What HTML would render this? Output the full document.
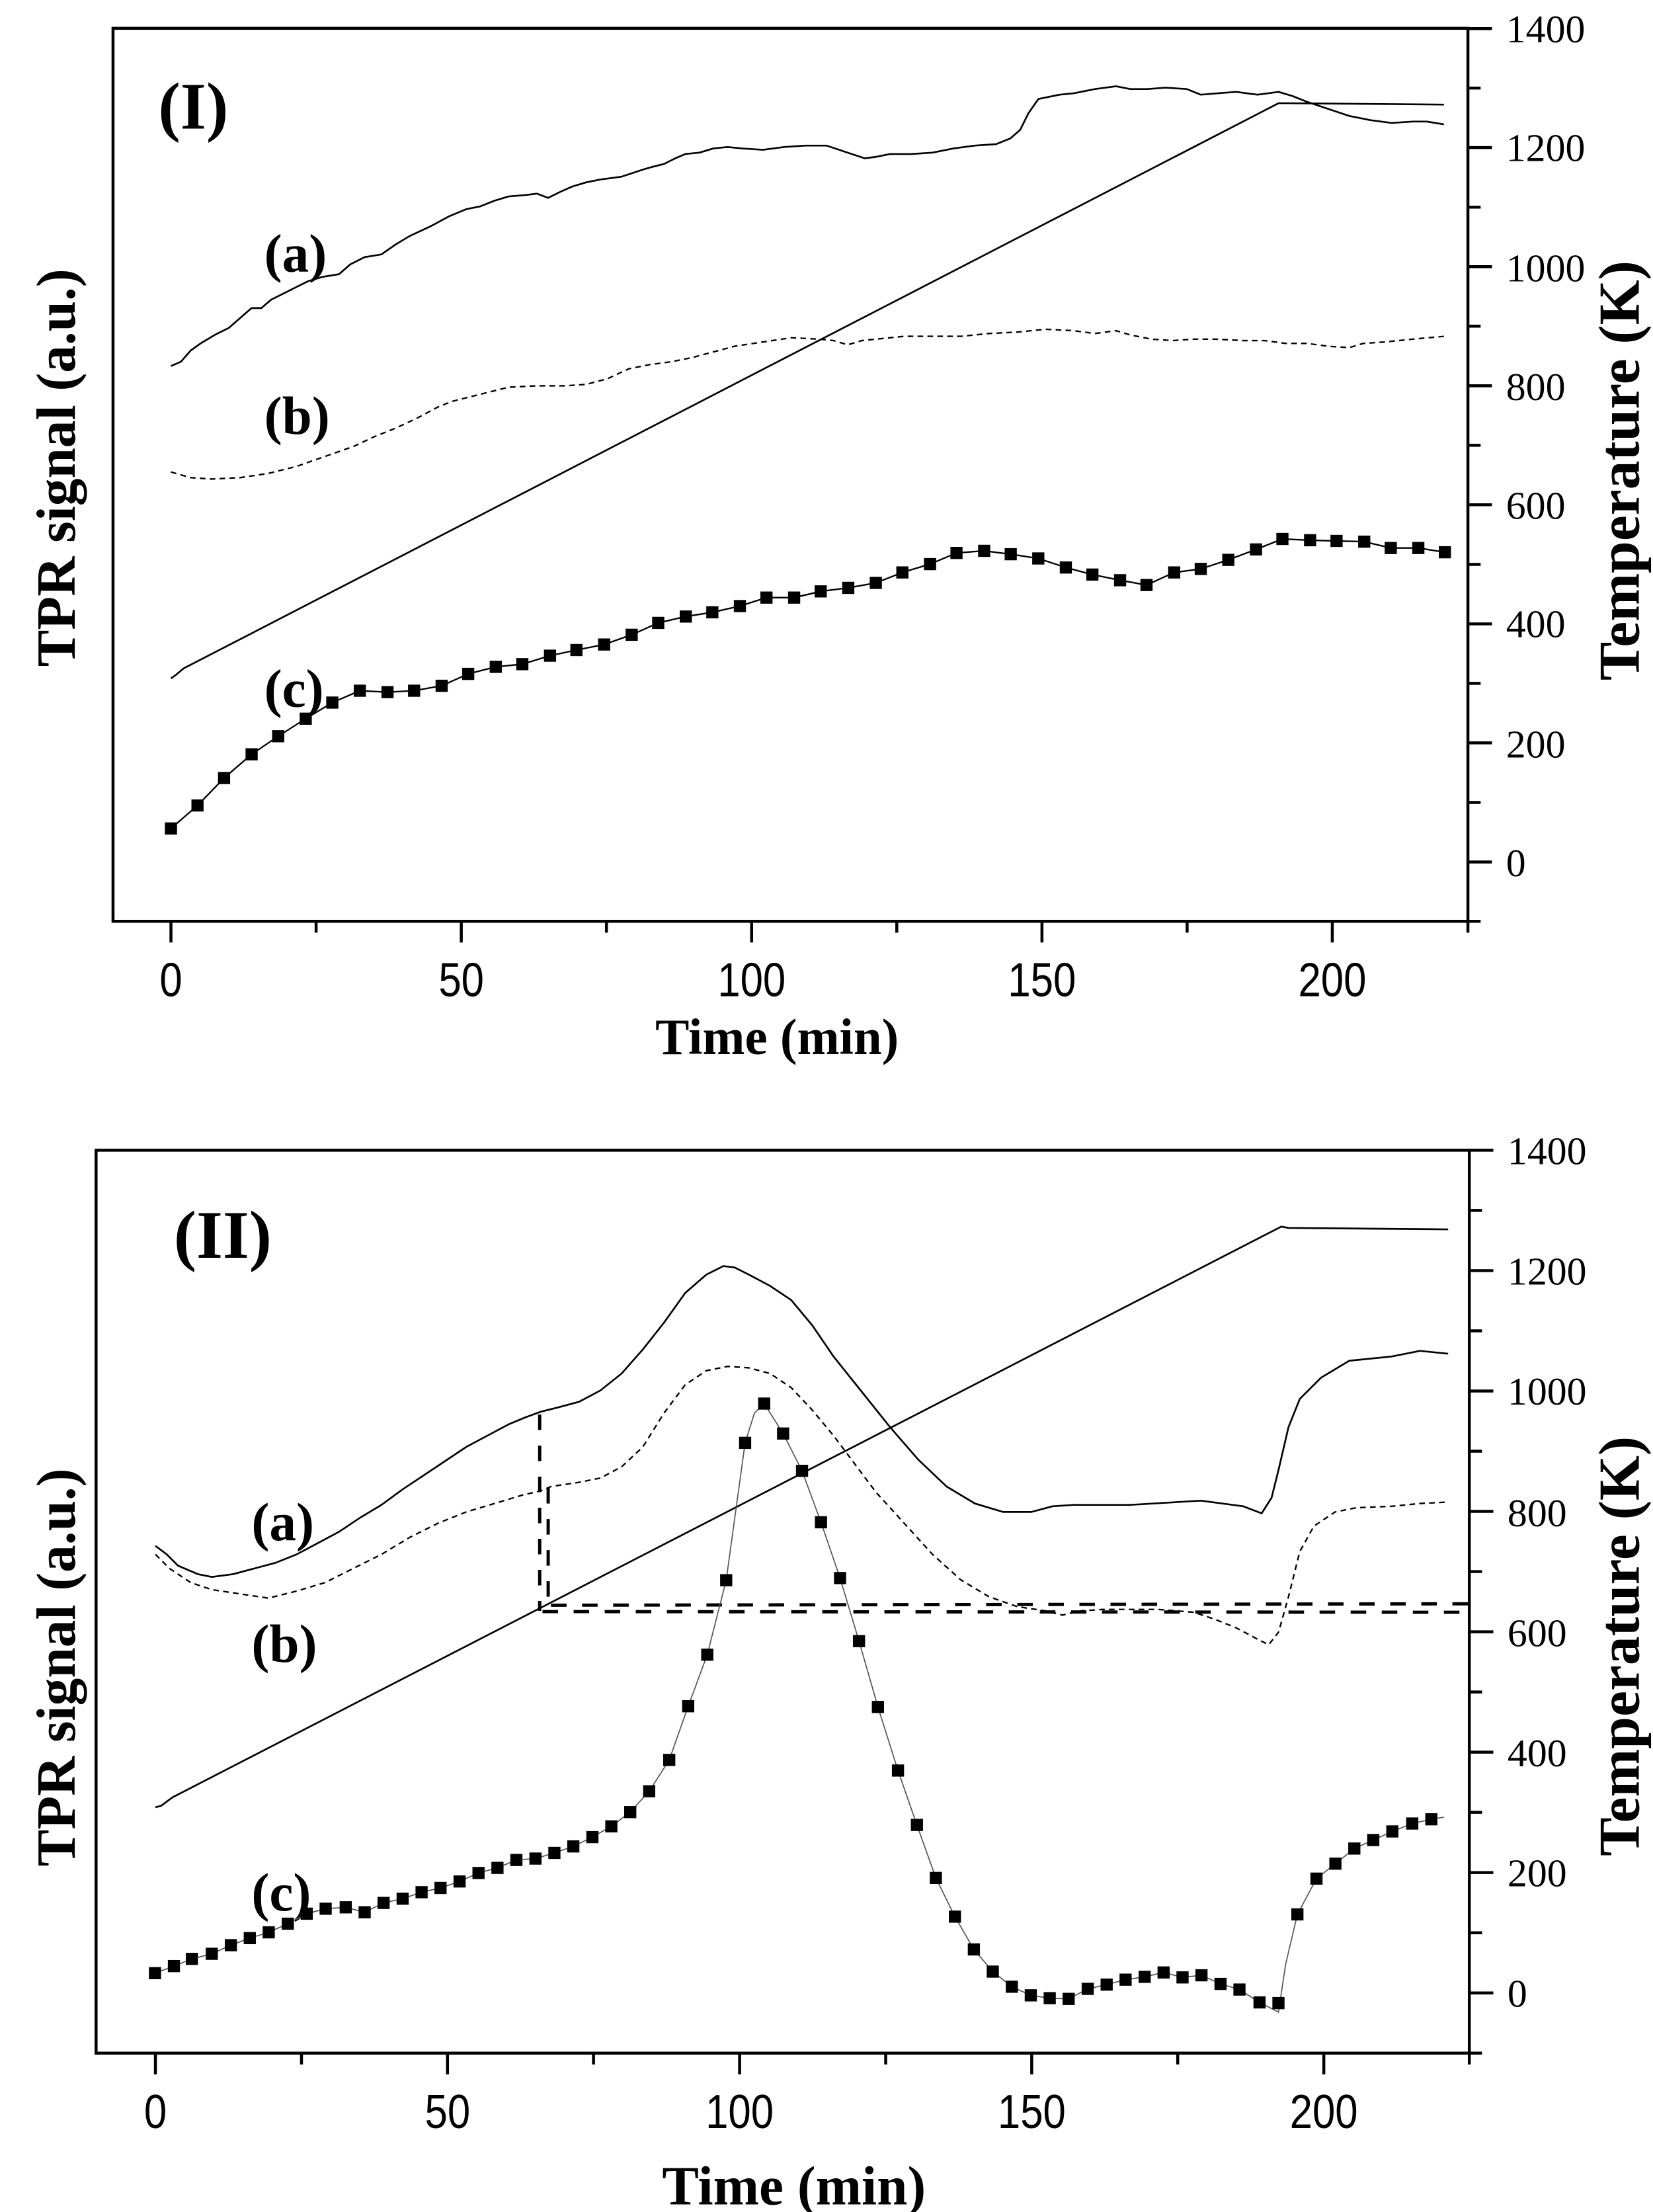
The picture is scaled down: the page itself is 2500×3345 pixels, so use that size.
<!DOCTYPE html>
<html><head><meta charset="utf-8"><style>html,body{margin:0;padding:0;background:#fff}svg{display:block}</style></head>
<body>
<svg width="2500" height="3345" viewBox="0 0 1170 1565.4" xmlns="http://www.w3.org/2000/svg">
<rect width="1170" height="1565.4" fill="#fff"/>
<defs>
<g id="sq"><rect x="-4.3" y="-4.3" width="8.6" height="8.6" fill="#000"/></g>
</defs>
<!-- ===== TOP PANEL ===== -->
<g fill="none" stroke="#000" stroke-width="2.1" stroke-linecap="square">
<rect x="80" y="20" width="959" height="632"/>
<line x1="1039" y1="652" x2="1039" y2="659"/>
</g>
<g stroke="#000" stroke-width="2.1">
<path d="M1039 610H1056M1039 525.7H1056M1039 441.5H1056M1039 357.2H1056M1039 273H1056M1039 188.7H1056M1039 104.4H1056M1039 20.2H1056"/>
<path d="M1039 652H1048M1039 567.9H1048M1039 483.6H1048M1039 399.4H1048M1039 315.1H1048M1039 230.8H1048M1039 146.6H1048M1039 62.3H1048"/>
<path d="M121 652V667M326.5 652V667M532 652V667M737.5 652V667M943 652V667"/>
<path d="M223.75 652V660M429.25 652V660M634.75 652V660M840.25 652V660"/>
</g>
<g font-family="Liberation Serif, serif" font-size="28" text-anchor="start">
<text x="1066" y="620">0</text><text x="1066" y="536">200</text><text x="1066" y="451">400</text><text x="1066" y="367">600</text><text x="1066" y="283">800</text><text x="1066" y="199">1000</text><text x="1066" y="114">1200</text><text x="1066" y="30">1400</text>
</g>
<g font-family="Liberation Sans, sans-serif" font-size="34" text-anchor="middle">
<text transform="translate(121,705) scale(0.85,1)">0</text>
<text transform="translate(326.5,705) scale(0.85,1)">50</text>
<text transform="translate(532,705) scale(0.85,1)">100</text>
<text transform="translate(737.5,705) scale(0.85,1)">150</text>
<text transform="translate(943,705) scale(0.85,1)">200</text>
</g>
<g font-family="Liberation Serif, serif" font-weight="bold">
<text x="550" y="746" font-size="36" text-anchor="middle">Time (min)</text>
<text transform="translate(53,331) rotate(-90)" font-size="39" text-anchor="middle">TPR signal (a.u.)</text>
<text transform="translate(1160,333) rotate(-90)" font-size="41" text-anchor="middle">Temperature (K)</text>
<text x="112" y="91" font-size="47">(I)</text>
<text x="187" y="192" font-size="38">(a)</text>
<text x="187" y="307" font-size="38">(b)</text>
<text x="187" y="500" font-size="38">(c)</text>
</g>
<g fill="none" stroke="#000" stroke-width="1.25" stroke-linejoin="round">
<polyline points="121,480 124,478 130,473 905,73 910,73 1022,74"/>
<polyline points="121,259 128,256 135,248 142,243 152,237 162,232 170,225 178,218 185,218 192,212 200,208 210,203 218,199 228,196 240,194 248,187 258,182 270,180 280,173 290,167 305,160 318,153 330,148 340,146 350,142 360,139 372,138 380,137 388,140 396,136 405,132 415,129 425,127 440,125 455,120 462,118 470,116 478,112 485,109 495,108 505,105 515,104 525,105 540,106 555,104 570,103 585,103 600,108 612,112 620,111 630,109 645,109 660,108 675,105 690,103 705,102 715,98 722,92 728,80 735,70 750,67 760,66 775,63 790,61 800,63 812,63 825,62 840,63 850,67 862,66 875,65 890,67 905,65 915,68 925,72 940,77 955,82 970,85 985,87 1000,86 1010,86 1022,88"/>
<polyline stroke-width="1.1" stroke-dasharray="4 3" points="121,334 135,338 150,339 170,338 190,335 210,330 230,323 250,316 265,309 280,303 295,296 310,288 320,284 340,279 360,274 380,273 400,273 415,272 430,268 445,261 460,258 475,256 490,253 505,249 520,245 540,242 560,239 580,240 590,241 600,244 610,241 620,240 640,238 660,238 680,238 700,236 720,235 740,233 760,234 775,236 790,234 800,237 815,240 830,241 845,240 860,240 880,241 895,241 910,243 925,243 940,245 955,246 965,243 980,242 1000,240 1022,238"/>
<polyline stroke-width="1.1" points="121,586.3 139.8,570 158.6,550.6 178.1,533.8 196.9,521 216.4,508.6 235.2,497.2 254.7,488.8 274.3,489.8 293.1,488.8 312.6,485.3 331.4,476.9 350.9,471.9 369.7,470 389.3,464 408,460 427.6,456.1 447.1,449.2 465.9,440.8 485.4,436.3 504.2,433.3 523.7,428.9 542.5,422.9 562.1,422.9 580.9,418.5 600.4,416 619.9,412.5 638.7,405.1 658.3,399.2 677,391.3 696.6,389.8 715.4,392.2 734.9,395.2 754.4,401.6 773.2,406.6 792.8,410.6 811.5,414 831.1,405.1 849.9,402.6 869.4,396.2 889,388.8 907.7,381.4 927.3,382.3 946,382.8 965.6,383.3 984.4,387.8 1003.9,387.8 1022.7,390.8"/>
</g>
<g>
<use href="#sq" x="121" y="586.3"/><use href="#sq" x="139.8" y="570"/><use href="#sq" x="158.6" y="550.6"/><use href="#sq" x="178.1" y="533.8"/><use href="#sq" x="196.9" y="521"/><use href="#sq" x="216.4" y="508.6"/><use href="#sq" x="235.2" y="497.2"/><use href="#sq" x="254.7" y="488.8"/><use href="#sq" x="274.3" y="489.8"/><use href="#sq" x="293.1" y="488.8"/><use href="#sq" x="312.6" y="485.3"/><use href="#sq" x="331.4" y="476.9"/><use href="#sq" x="350.9" y="471.9"/><use href="#sq" x="369.7" y="470"/><use href="#sq" x="389.3" y="464"/><use href="#sq" x="408" y="460"/><use href="#sq" x="427.6" y="456.1"/><use href="#sq" x="447.1" y="449.2"/><use href="#sq" x="465.9" y="440.8"/><use href="#sq" x="485.4" y="436.3"/><use href="#sq" x="504.2" y="433.3"/><use href="#sq" x="523.7" y="428.9"/><use href="#sq" x="542.5" y="422.9"/><use href="#sq" x="562.1" y="422.9"/><use href="#sq" x="580.9" y="418.5"/><use href="#sq" x="600.4" y="416"/><use href="#sq" x="619.9" y="412.5"/><use href="#sq" x="638.7" y="405.1"/><use href="#sq" x="658.3" y="399.2"/><use href="#sq" x="677" y="391.3"/><use href="#sq" x="696.6" y="389.8"/><use href="#sq" x="715.4" y="392.2"/><use href="#sq" x="734.9" y="395.2"/><use href="#sq" x="754.4" y="401.6"/><use href="#sq" x="773.2" y="406.6"/><use href="#sq" x="792.8" y="410.6"/><use href="#sq" x="811.5" y="414"/><use href="#sq" x="831.1" y="405.1"/><use href="#sq" x="849.9" y="402.6"/><use href="#sq" x="869.4" y="396.2"/><use href="#sq" x="889" y="388.8"/><use href="#sq" x="907.7" y="381.4"/><use href="#sq" x="927.3" y="382.3"/><use href="#sq" x="946" y="382.8"/><use href="#sq" x="965.6" y="383.3"/><use href="#sq" x="984.4" y="387.8"/><use href="#sq" x="1003.9" y="387.8"/><use href="#sq" x="1022.7" y="390.8"/>
</g>

<!-- ===== BOTTOM PANEL ===== -->
<g fill="none" stroke="#000" stroke-width="2.1" stroke-linecap="square">
<rect x="68" y="814" width="972" height="639"/>
<line x1="1040" y1="1453" x2="1040" y2="1460"/>
</g>
<g stroke="#000" stroke-width="2.1">
<path d="M1040 1410.4H1057M1040 1325.2H1057M1040 1240H1057M1040 1154.8H1057M1040 1069.6H1057M1040 984.4H1057M1040 899.2H1057M1040 814H1057"/>
<path d="M1040 1453H1049M1040 1367.8H1049M1040 1282.6H1049M1040 1197.4H1049M1040 1112.2H1049M1040 1027H1049M1040 941.8H1049M1040 856.6H1049"/>
<path d="M110 1453V1468M316.75 1453V1468M523.5 1453V1468M730.25 1453V1468M937 1453V1468"/>
<path d="M213.4 1453V1461M420.1 1453V1461M626.9 1453V1461M833.6 1453V1461"/>
</g>
<g font-family="Liberation Serif, serif" font-size="28" text-anchor="start">
<text x="1067" y="1420">0</text><text x="1067" y="1335">200</text><text x="1067" y="1250">400</text><text x="1067" y="1165">600</text><text x="1067" y="1080">800</text><text x="1067" y="994">1000</text><text x="1067" y="909">1200</text><text x="1067" y="824">1400</text>
</g>
<g font-family="Liberation Sans, sans-serif" font-size="34" text-anchor="middle">
<text transform="translate(110,1506) scale(0.85,1)">0</text>
<text transform="translate(316.75,1506) scale(0.85,1)">50</text>
<text transform="translate(523.5,1506) scale(0.85,1)">100</text>
<text transform="translate(730.25,1506) scale(0.85,1)">150</text>
<text transform="translate(937,1506) scale(0.85,1)">200</text>
</g>
<g font-family="Liberation Serif, serif" font-weight="bold">
<text x="562" y="1560" font-size="39" text-anchor="middle">Time (min)</text>
<text transform="translate(53,1180) rotate(-90)" font-size="39" text-anchor="middle">TPR signal (a.u.)</text>
<text transform="translate(1160,1165) rotate(-90)" font-size="41" text-anchor="middle">Temperature (K)</text>
<text x="123" y="890" font-size="48">(II)</text>
<text x="178" y="1090" font-size="38">(a)</text>
<text x="178" y="1176" font-size="38">(b)</text>
<text x="178" y="1352" font-size="38">(c)</text>
</g>
<g fill="none" stroke="#000" stroke-width="1.25" stroke-linejoin="round">
<polyline points="110,1279 114,1278 122,1272 907,868 912,869 1025,870"/>
<polyline points="110,1094 118,1100 126,1108 140,1114 150,1116 165,1114 180,1110 195,1106 210,1100 225,1092 240,1084 255,1074 270,1065 285,1054 300,1044 315,1034 330,1024 345,1016 360,1008 372,1003 383,999 395,996 410,992 425,984 440,972 455,955 470,936 485,915 500,902 512,896 520,897 530,902 545,910 560,920 575,938 590,960 610,985 630,1010 650,1033 670,1052 690,1064 710,1070 730,1070 745,1066 760,1065 800,1065 850,1062 880,1066 893,1071 900,1060 905,1040 912,1010 920,990 935,975 955,963 985,960 1005,956 1025,958"/>
<polyline stroke-width="1.1" stroke-dasharray="4 3" points="110,1100 120,1110 135,1120 150,1125 170,1128 190,1131 210,1126 230,1120 250,1110 270,1100 290,1088 310,1078 330,1070 350,1064 370,1058 383,1055 390,1052 410,1049 425,1046 440,1038 455,1024 470,1000 485,980 500,970 515,967 530,968 545,972 560,982 575,998 590,1016 605,1036 620,1056 640,1078 660,1100 680,1118 700,1130 720,1137 740,1140 752,1143 765,1140 780,1139 800,1139 820,1139 845,1141 860,1146 875,1152 890,1160 898,1164 905,1155 912,1130 920,1098 930,1080 945,1070 960,1067 985,1066 1005,1064 1025,1063"/>
<g stroke-width="2.3" stroke-dasharray="11 11">
<line x1="382" y1="1001" x2="382" y2="1140"/>
<line x1="388" y1="1053" x2="388" y2="1132"/>
<line x1="390" y1="1136" x2="1040" y2="1135"/>
<line x1="384" y1="1140.5" x2="1040" y2="1141"/>
</g>
<polyline stroke="#555" stroke-width="0.8" points="109.7,1396.4 123.1,1391.4 135.8,1386.3 149.9,1382.7 163.4,1376.6 176.8,1371.6 190.2,1367.5 203.7,1361.4 217.1,1354.3 230.5,1350.8 244.7,1349.8 258.1,1353.3 271.5,1346.7 285,1343.7 298.4,1339.1 311.8,1336.1 325.3,1331.5 338.7,1325.5 352.1,1321.9 365.5,1316.3 379,1315.3 392.4,1311.3 405.8,1306.7 419.3,1300.1 432.7,1292.5 446.1,1282.4 459.5,1267.7 473.7,1245.5 487.1,1207.5 500.6,1171 514,1118.3 527.4,1021.1 534,1000 540.9,993.3 554.3,1014.5 567.7,1040.9 581.1,1077.3 594.6,1116.8 608,1161.4 621.4,1208 635.6,1253 649,1291.5 662.4,1329 675.9,1356.4 689.3,1379.6 702.7,1395.3 716.2,1406 729.6,1412.1 743,1414.1 756.4,1414.6 769.9,1407.5 783.3,1404.5 796.7,1401 810.2,1399 823.6,1395.9 837,1399.4 850.4,1397.9 863.9,1404 877.3,1408 891.5,1417.1 904.9,1424 910,1390 918.3,1354.8 931.8,1329.5 945.2,1318.9 958.6,1308.2 972,1302.2 985.5,1296.1 999.6,1290.5 1013.1,1287.5 1022,1286"/>
</g>
<g>
<use href="#sq" x="109.7" y="1396.4"/><use href="#sq" x="123.1" y="1391.4"/><use href="#sq" x="135.8" y="1386.3"/><use href="#sq" x="149.9" y="1382.7"/><use href="#sq" x="163.4" y="1376.6"/><use href="#sq" x="176.8" y="1371.6"/><use href="#sq" x="190.2" y="1367.5"/><use href="#sq" x="203.7" y="1361.4"/><use href="#sq" x="217.1" y="1354.3"/><use href="#sq" x="230.5" y="1350.8"/><use href="#sq" x="244.7" y="1349.8"/><use href="#sq" x="258.1" y="1353.3"/><use href="#sq" x="271.5" y="1346.7"/><use href="#sq" x="285" y="1343.7"/><use href="#sq" x="298.4" y="1339.1"/><use href="#sq" x="311.8" y="1336.1"/><use href="#sq" x="325.3" y="1331.5"/><use href="#sq" x="338.7" y="1325.5"/><use href="#sq" x="352.1" y="1321.9"/><use href="#sq" x="365.5" y="1316.3"/><use href="#sq" x="379" y="1315.3"/><use href="#sq" x="392.4" y="1311.3"/><use href="#sq" x="405.8" y="1306.7"/><use href="#sq" x="419.3" y="1300.1"/><use href="#sq" x="432.7" y="1292.5"/><use href="#sq" x="446.1" y="1282.4"/><use href="#sq" x="459.5" y="1267.7"/><use href="#sq" x="473.7" y="1245.5"/><use href="#sq" x="487.1" y="1207.5"/><use href="#sq" x="500.6" y="1171"/><use href="#sq" x="514" y="1118.3"/><use href="#sq" x="527.4" y="1021.1"/><use href="#sq" x="540.9" y="993.3"/><use href="#sq" x="554.3" y="1014.5"/><use href="#sq" x="567.7" y="1040.9"/><use href="#sq" x="581.1" y="1077.3"/><use href="#sq" x="594.6" y="1116.8"/><use href="#sq" x="608" y="1161.4"/><use href="#sq" x="621.4" y="1208"/><use href="#sq" x="635.6" y="1253"/><use href="#sq" x="649" y="1291.5"/><use href="#sq" x="662.4" y="1329"/><use href="#sq" x="675.9" y="1356.4"/><use href="#sq" x="689.3" y="1379.6"/><use href="#sq" x="702.7" y="1395.3"/><use href="#sq" x="716.2" y="1406"/><use href="#sq" x="729.6" y="1412.1"/><use href="#sq" x="743" y="1414.1"/><use href="#sq" x="756.4" y="1414.6"/><use href="#sq" x="769.9" y="1407.5"/><use href="#sq" x="783.3" y="1404.5"/><use href="#sq" x="796.7" y="1401"/><use href="#sq" x="810.2" y="1399"/><use href="#sq" x="823.6" y="1395.9"/><use href="#sq" x="837" y="1399.4"/><use href="#sq" x="850.4" y="1397.9"/><use href="#sq" x="863.9" y="1404"/><use href="#sq" x="877.3" y="1408"/><use href="#sq" x="891.5" y="1417.1"/><use href="#sq" x="904.9" y="1417.6"/><use href="#sq" x="918.3" y="1354.8"/><use href="#sq" x="931.8" y="1329.5"/><use href="#sq" x="945.2" y="1318.9"/><use href="#sq" x="958.6" y="1308.2"/><use href="#sq" x="972" y="1302.2"/><use href="#sq" x="985.5" y="1296.1"/><use href="#sq" x="999.6" y="1290.5"/><use href="#sq" x="1013.1" y="1287.5"/>
</g>
</svg>
</body></html>
